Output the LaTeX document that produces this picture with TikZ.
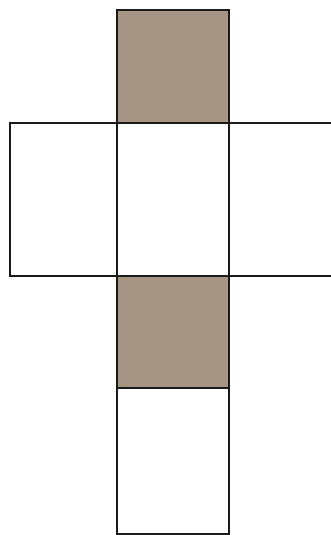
\documentclass[tikz,border=0pt]{standalone}
\usepackage{tikz}
\begin{document}
\begin{tikzpicture}[x=1pt,y=-1pt]
\definecolor{faceShade}{HTML}{A69585}
\definecolor{faceEdge}{HTML}{1A1A1A}
\useasboundingbox (0,0) rectangle (331,535);
\clip (0,0) rectangle (331,535);
\fill[faceShade] (117,10) rectangle (229,123);
\fill[faceShade] (117,276) rectangle (229,388);
\foreach \xa/\ya/\xb/\yb in {117/10/229/123,10/123/117/276,117/123/229/276,229/123/340/276,117/276/229/388,117/388/229/534} {
  \draw[faceEdge,line width=1.4pt] (\xa,\ya) rectangle (\xb,\yb);
}
\end{tikzpicture}
\end{document}
